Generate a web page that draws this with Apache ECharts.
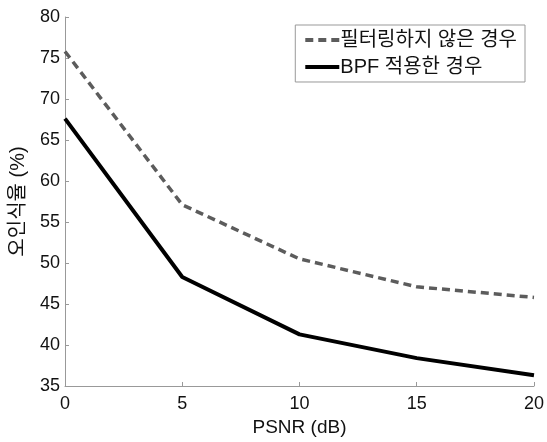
<!DOCTYPE html>
<html><head><meta charset="utf-8">
<script src="https://cdn.jsdelivr.net/npm/echarts@6/dist/echarts.min.js"></script>
<style>html,body{margin:0;padding:0;background:#fff}#c{width:547px;height:442px}</style>
</head><body><div id="c"></div>
<script>
const psnr = [0, 5, 10, 15, 20];
const noFilter = [75.8, 57.1, 50.5, 47.1, 45.8];
const bpf = [67.6, 48.3, 41.3, 38.4, 36.3];
const seriesNames = ['필터링하지 않은 경우', 'BPF 적용한 경우'];
const FONT = '"Liberation Sans", Arial, "Noto Sans CJK KR", sans-serif';

const chart = echarts.init(document.getElementById('c'), null, {renderer: 'canvas'});
chart.setOption({
  animation: false,
  backgroundColor: '#fff',
  grid: {left: 58, right: 11, top: 17, bottom: 50},
  legend: {
    orient: 'vertical', right: 22, top: 25,
    itemWidth: 34, itemHeight: 14, itemGap: 7,
    padding: [5, 8, 5, 8],
    borderColor: '#999', borderWidth: 1,
    itemStyle: {opacity: 0},
    lineStyle: {width: 4},
    textStyle: {fontFamily: FONT, fontSize: 20, color: '#111', padding: [0, 0, 0, -4]},
    data: seriesNames
  },
  xAxis: {
    type: 'value', min: 0, max: 20, interval: 5,
    name: 'PSNR (dB)', nameLocation: 'middle', nameGap: 32,
    nameTextStyle: {fontFamily: FONT, fontSize: 19, color: '#111'},
    axisLine: {show: true, lineStyle: {color: '#999', width: 1}},
    axisTick: {show: true, inside: true, length: 4, lineStyle: {color: '#999'}},
    axisLabel: {fontFamily: FONT, fontSize: 18, color: '#111', margin: 9},
    splitLine: {show: false}
  },
  yAxis: {
    type: 'value', min: 35, max: 80, interval: 5,
    name: '오인식율 (%)', nameLocation: 'middle', nameGap: 37,
    nameTextStyle: {fontFamily: FONT, fontSize: 20, color: '#111'},
    axisLine: {show: true, lineStyle: {color: '#999', width: 1}},
    axisTick: {show: true, inside: true, length: 4, lineStyle: {color: '#999'}},
    axisLabel: {fontFamily: FONT, fontSize: 18, color: '#111', margin: 5},
    splitLine: {show: false}
  },
  series: [
    {
      name: seriesNames[0], type: 'line', symbol: 'none',
      data: psnr.map((x, i) => [x, noFilter[i]]),
      lineStyle: {color: '#5c5c5c', width: 3.5, type: [8, 5]},
      itemStyle: {color: '#5c5c5c'}
    },
    {
      name: seriesNames[1], type: 'line', symbol: 'none',
      data: psnr.map((x, i) => [x, bpf[i]]),
      lineStyle: {color: '#000', width: 4},
      itemStyle: {color: '#000'}
    }
  ]
});
</script>
</body></html>
